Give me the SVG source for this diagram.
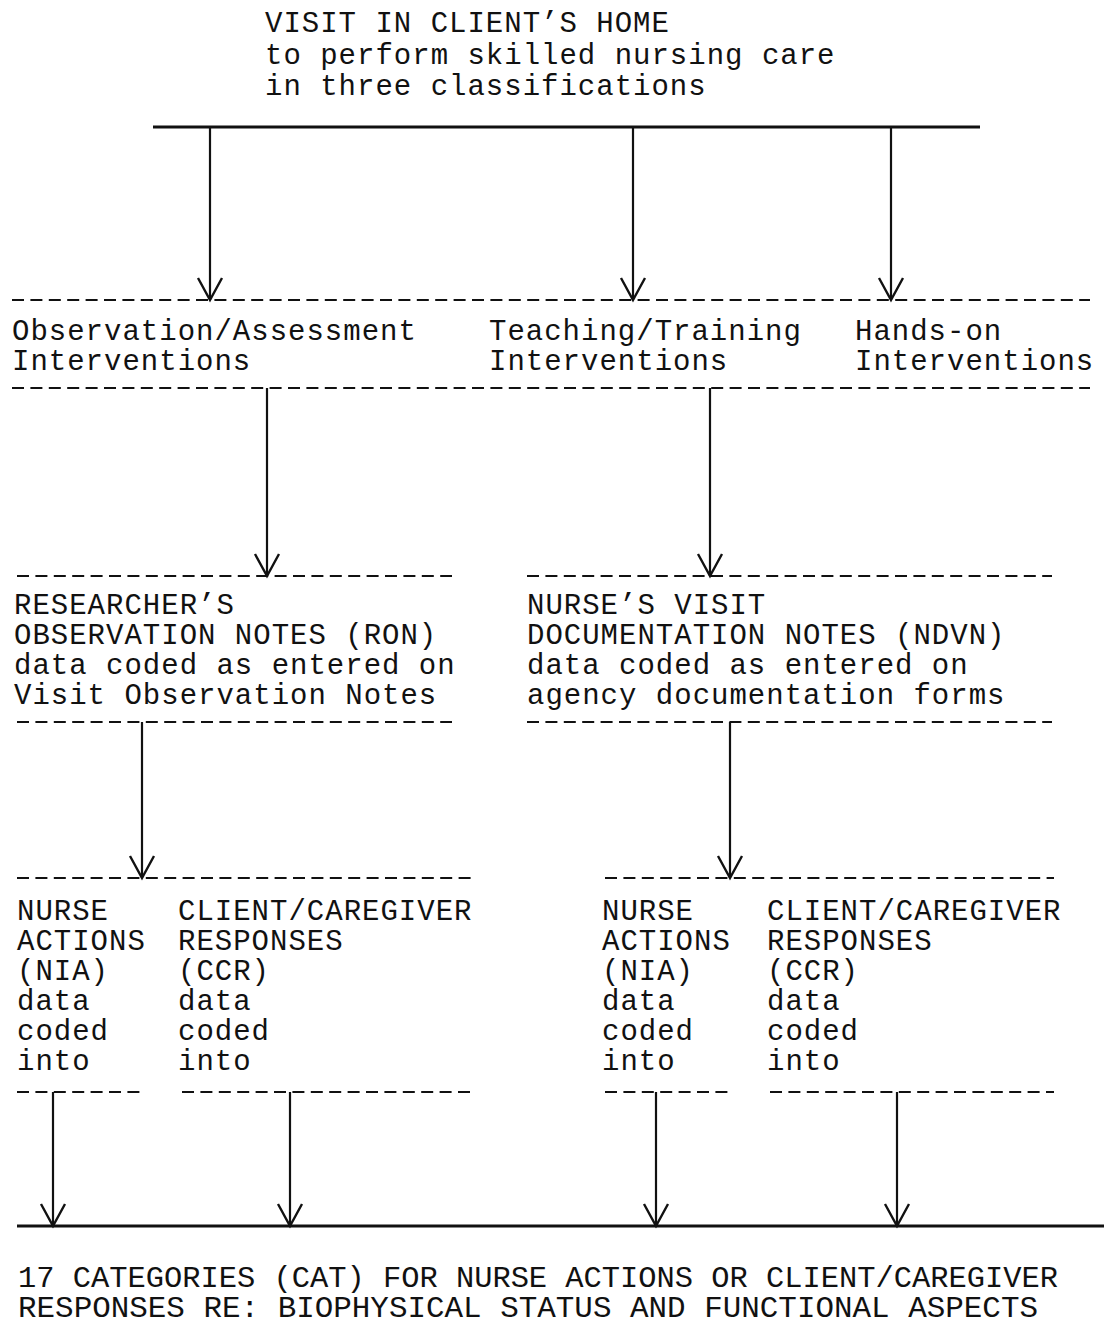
<svg xmlns="http://www.w3.org/2000/svg" width="1104" height="1344" viewBox="0 0 1104 1344">
<style>
text{font-family:"Liberation Mono","DejaVu Sans Mono",monospace;font-size:29px;letter-spacing:1px;fill:#111}
.dash{stroke:#111;stroke-width:2.2;stroke-dasharray:12 6.4;fill:none}
.solid{stroke:#111;stroke-width:3;fill:none}
.conn{stroke:#111;stroke-width:2.2;fill:none;marker-end:url(#v)}
</style>
<defs>
<marker id="v" markerUnits="userSpaceOnUse" markerWidth="30" markerHeight="30" viewBox="-24 -15 28 30" refX="0" refY="0" orient="auto">
<path d="M-22 -12 L0 0 L-22 12" fill="none" stroke="#111" stroke-width="2.4"/>
</marker>
</defs>
<rect width="1104" height="1344" fill="#fff"/>
<g id="visit">
<text x="265" y="32">VISIT IN CLIENT’S HOME<tspan x="265" dy="32">to perform skilled nursing care</tspan><tspan x="265" dy="31">in three classifications</tspan></text>
<line class="solid" x1="153" y1="127" x2="980" y2="127"/>
</g>
<g id="interventions">
<line class="dash" x1="12" y1="300" x2="1090" y2="300"/>
<text x="12" y="340">Observation/Assessment<tspan x="12" dy="30">Interventions</tspan></text>
<text x="489" y="340">Teaching/Training<tspan x="489" dy="30">Interventions</tspan></text>
<text x="855" y="340">Hands-on<tspan x="855" dy="30">Interventions</tspan></text>
<line class="dash" x1="12" y1="388" x2="1090" y2="388"/>
</g>
<g id="ron">
<line class="dash" x1="17" y1="576" x2="452" y2="576"/>
<text x="14" y="614">RESEARCHER’S<tspan x="14" dy="30">OBSERVATION NOTES (RON)</tspan><tspan x="14" dy="30">data coded as entered on</tspan><tspan x="14" dy="30">Visit Observation Notes</tspan></text>
<line class="dash" x1="17" y1="722" x2="452" y2="722"/>
</g>
<g id="ndvn">
<line class="dash" x1="527" y1="576" x2="1052" y2="576"/>
<text x="527" y="614">NURSE’S VISIT<tspan x="527" dy="30">DOCUMENTATION NOTES (NDVN)</tspan><tspan x="527" dy="30">data coded as entered on</tspan><tspan x="527" dy="30">agency documentation forms</tspan></text>
<line class="dash" x1="527" y1="722" x2="1052" y2="722"/>
</g>
<g id="left-coding">
<line class="dash" x1="17" y1="878" x2="474" y2="878"/>
<text x="17" y="920">NURSE<tspan x="17" dy="30">ACTIONS</tspan><tspan x="17" dy="30">(NIA)</tspan><tspan x="17" dy="30">data</tspan><tspan x="17" dy="30">coded</tspan><tspan x="17" dy="30">into</tspan></text>
<text x="178" y="920">CLIENT/CAREGIVER<tspan x="178" dy="30">RESPONSES</tspan><tspan x="178" dy="30">(CCR)</tspan><tspan x="178" dy="30">data</tspan><tspan x="178" dy="30">coded</tspan><tspan x="178" dy="30">into</tspan></text>
<line class="dash" x1="17" y1="1092" x2="142" y2="1092"/>
<line class="dash" x1="182" y1="1092" x2="474" y2="1092"/>
</g>
<g id="right-coding">
<line class="dash" x1="605" y1="878" x2="1054" y2="878"/>
<text x="602" y="920">NURSE<tspan x="602" dy="30">ACTIONS</tspan><tspan x="602" dy="30">(NIA)</tspan><tspan x="602" dy="30">data</tspan><tspan x="602" dy="30">coded</tspan><tspan x="602" dy="30">into</tspan></text>
<text x="767" y="920">CLIENT/CAREGIVER<tspan x="767" dy="30">RESPONSES</tspan><tspan x="767" dy="30">(CCR)</tspan><tspan x="767" dy="30">data</tspan><tspan x="767" dy="30">coded</tspan><tspan x="767" dy="30">into</tspan></text>
<line class="dash" x1="605" y1="1092" x2="730" y2="1092"/>
<line class="dash" x1="770" y1="1092" x2="1054" y2="1092"/>
</g>
<g id="categories">
<line class="solid" x1="17" y1="1226" x2="1104" y2="1226"/>
<text x="18" y="1287" style="letter-spacing:0" textLength="1040" lengthAdjust="spacingAndGlyphs">17 CATEGORIES (CAT) FOR NURSE ACTIONS OR CLIENT/CAREGIVER</text>
<text x="18" y="1317" style="letter-spacing:0" textLength="1020" lengthAdjust="spacingAndGlyphs">RESPONSES RE: BIOPHYSICAL STATUS AND FUNCTIONAL ASPECTS</text>
</g>
<g id="connectors">
<line class="conn" x1="210" y1="127" x2="210" y2="300"/>
<line class="conn" x1="633" y1="127" x2="633" y2="300"/>
<line class="conn" x1="891" y1="127" x2="891" y2="300"/>
<line class="conn" x1="267" y1="388" x2="267" y2="576"/>
<line class="conn" x1="710" y1="388" x2="710" y2="576"/>
<line class="conn" x1="142" y1="722" x2="142" y2="878"/>
<line class="conn" x1="730" y1="722" x2="730" y2="878"/>
<line class="conn" x1="53" y1="1092" x2="53" y2="1226"/>
<line class="conn" x1="290" y1="1092" x2="290" y2="1226"/>
<line class="conn" x1="656" y1="1092" x2="656" y2="1226"/>
<line class="conn" x1="897" y1="1092" x2="897" y2="1226"/>
</g>
</svg>
